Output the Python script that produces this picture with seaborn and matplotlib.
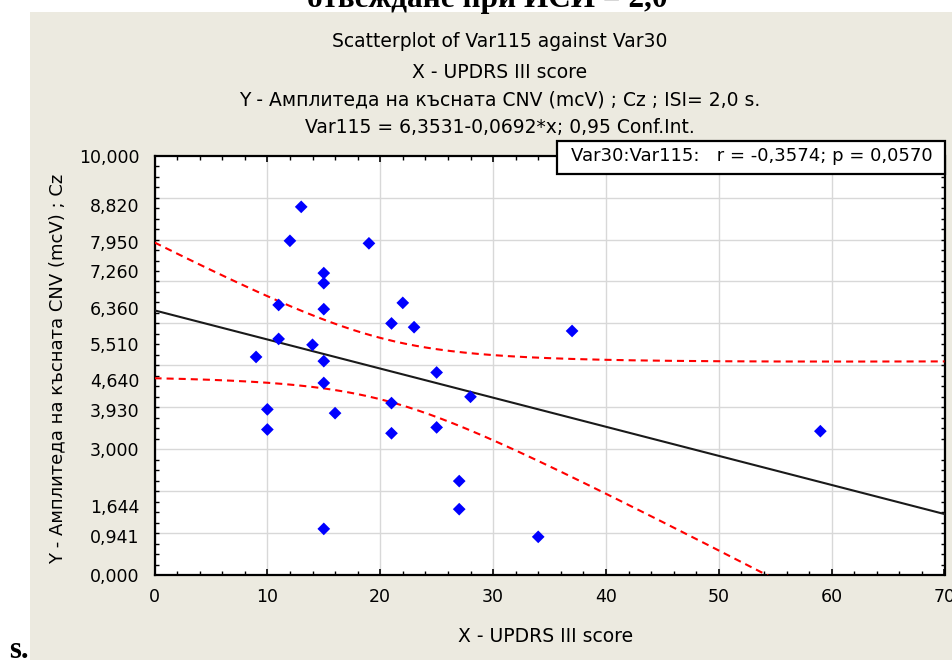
import numpy as np
import matplotlib
matplotlib.use("Agg")
import matplotlib.pyplot as plt
import seaborn as sns
from matplotlib.patches import Rectangle

# ---------------- data ----------------
updrs = [9, 10, 10, 11, 11, 12, 13, 14, 15, 15, 15, 15, 15, 15, 16, 19,
         21, 21, 21, 22, 23, 25, 25, 27, 27, 28, 34, 37, 59]
cnv = [5.20, 3.95, 3.47, 6.44, 5.63, 7.97, 8.78, 5.49, 7.20, 6.96, 6.34, 5.10,
       4.58, 1.10, 3.86, 7.91, 6.00, 4.10, 3.38, 6.49, 5.91, 4.83, 3.52, 2.24,
       1.57, 4.25, 0.91, 5.82, 3.43]

ytick_vals = [0.0, 0.941, 1.644, 3.0, 3.93, 4.64, 5.51, 6.36, 7.26, 7.95, 8.82, 10.0]
ytick_labels = ["0,000", "0,941", "1,644", "3,000", "3,930", "4,640", "5,510",
                "6,360", "7,260", "7,950", "8,820", "10,000"]
xtick_vals = [0, 10, 20, 30, 40, 50, 60, 70]
xtick_labels = ["0", "10", "20", "30", "40", "50", "60", "70"]
ygrid_vals = [1, 2, 3, 4, 5, 6, 7, 8, 9]

top_caption = "отвеждане при ИСИ = 2,0"
corner_caption = "s."
title_lines = ["Scatterplot of Var115 against Var30",
               "X - UPDRS III score",
               "Y - Амплитеда на късната CNV (mcV) ; Cz ; ISI= 2,0 s.",
               "Var115 = 6,3531-0,0692*x; 0,95 Conf.Int."]
x_label = "X - UPDRS III score"
y_label = "Y - Амплитеда на късната CNV (mcV) ; Cz"
stat_text = "Var30:Var115:   r = -0,3574; p = 0,0570"
conf_level_t = 2.0518  # t(0.975, df=27)

# ---------------- figure ----------------
plt.rcParams["font.family"] = ["DejaVu Sans"]
W, H = 952, 660
fig = plt.figure(figsize=(W / 100, H / 100), dpi=100)
fig.patch.set_facecolor("white")
fig.patches.append(Rectangle((30 / W, 0), 1 - 30 / W, 1 - 12 / H,
                             transform=fig.transFigure, facecolor="#ECEAE0",
                             edgecolor="none", zorder=-10))

ax = fig.add_axes([154.5 / W, 85 / H, 790 / W, 419.3 / H])
ax.set_facecolor("white")
ax.set_zorder(1)

# regression + confidence band computed from the data
x = np.array(updrs, float)
y = np.array(cnv, float)
n = len(x)
b1, b0 = np.polyfit(x, y, 1)
xx = np.linspace(0, 70, 300)
fit = b0 + b1 * xx
resid = y - (b0 + b1 * x)
s = np.sqrt(resid @ resid / (n - 2))
sxx = ((x - x.mean()) ** 2).sum()
se = s * np.sqrt(1 / n + (xx - x.mean()) ** 2 / sxx)

for gy in ygrid_vals:
    ax.axhline(gy, color="#D8D8D8", lw=1.0, zorder=0.5)
ax.grid(axis="x", which="major", color="#D8D8D8", lw=1.0, zorder=0.5)
ax.set_axisbelow(True)

sns.lineplot(x=xx, y=fit, color="#1A1A1A", lw=1.5, ax=ax, zorder=3)
sns.lineplot(x=xx, y=fit + conf_level_t * se, color="#FF0000", lw=1.5,
             linestyle=(0, (3.4, 2.4)), ax=ax, zorder=3)
sns.lineplot(x=xx, y=fit - conf_level_t * se, color="#FF0000", lw=1.5,
             linestyle=(0, (3.4, 2.4)), ax=ax, zorder=3)
sns.scatterplot(x=updrs, y=cnv, marker="D", color="#0000FF", s=42,
                edgecolor="none", ax=ax, zorder=5)

ax.set_xlim(0, 70)
ax.set_ylim(0, 10)
ax.set_xticks(xtick_vals)
ax.set_xticklabels(xtick_labels)
ax.set_xticks(np.arange(0, 71, 2), minor=True)
ax.set_yticks(ytick_vals)
ax.set_yticklabels(ytick_labels)
ax.set_yticks(np.arange(0, 10.01, 0.25), minor=True)
ax.tick_params(which="both", direction="in", top=True, right=True,
               color="black")
ax.tick_params(axis="x", which="major", length=4, width=1.2, labelsize=12.5,
               pad=9)
ax.tick_params(axis="y", which="major", length=0, labelsize=12.5, pad=11)
ax.tick_params(which="minor", length=3, width=1.0)
for sp in ax.spines.values():
    sp.set_linewidth(1.6)
    sp.set_color("black")
ax.set_xlabel("")
ax.set_ylabel("")

# statistics box
ax.add_patch(Rectangle((0.5095, 0.956), 0.4905, 0.079, transform=ax.transAxes,
                       facecolor="white", edgecolor="black", lw=1.6,
                       clip_on=False, zorder=10))
ax.text(0.7555, 0.9985, stat_text, transform=ax.transAxes, ha="center",
        va="center", fontsize=13, zorder=11, clip_on=False)

# titles and labels
for yy, line in zip([41.7, 72.7, 100, 127.7], title_lines):
    fig.text(500 / W, 1 - yy / H, line, ha="center", va="center", fontsize=13.5)
fig.text(546 / W, 1 - 637 / H, x_label, ha="center", va="center", fontsize=13.5)
fig.text(57 / W, 1 - 368.5 / H, y_label, ha="center", va="center",
         rotation=90, fontsize=13)

fig.text(487 / W, 1 - 6.5 / H, top_caption, ha="center", va="baseline",
         fontsize=22.5, fontweight="bold", family=["Liberation Serif"])
fig.text(9 / W, 1 - 658 / H, corner_caption, ha="left", va="baseline",
         fontsize=22, fontweight="bold", family=["Liberation Serif"])

fig.savefig("out.png", dpi=100)
